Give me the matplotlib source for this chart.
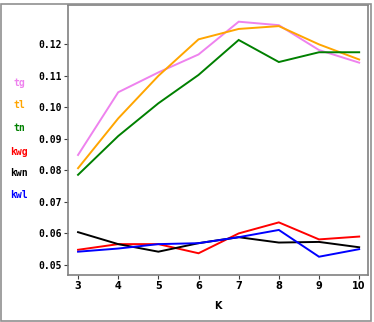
import matplotlib
matplotlib.use("Agg")
import matplotlib.pyplot as plt
from matplotlib.patches import Rectangle

K = [3, 4, 5, 6, 7, 8, 9, 10]
tg = [0.0849, 0.1048, 0.1111, 0.1168, 0.1272, 0.1261, 0.1182, 0.1142]
tl = [0.0807, 0.0965, 0.1100, 0.1216, 0.1249, 0.1258, 0.1200, 0.1152]
tn = [0.0786, 0.0909, 0.1013, 0.1103, 0.1214, 0.1144, 0.1175, 0.1175]
kwg = [0.0548, 0.0566, 0.0566, 0.0537, 0.0600, 0.0635, 0.0581, 0.0590]
kwn = [0.0604, 0.0566, 0.0542, 0.0569, 0.0588, 0.0571, 0.0573, 0.0556]
kwl = [0.0542, 0.0552, 0.0566, 0.0569, 0.0588, 0.0611, 0.0526, 0.0550]
series_names = ["tg", "tl", "tn", "kwg", "kwn", "kwl"]
colors = ["#EE82EE", "#FFA500", "#008000", "#FF0000", "#000000", "#0000FF"]
yticks = [0.05, 0.06, 0.07, 0.08, 0.09, 0.10, 0.11, 0.12]

fig = plt.figure(figsize=(3.74, 3.22), dpi=100)
ax = fig.add_axes([68/374, 1-275/322, 300/374, 270/322])

data = [tg, tl, tn, kwg, kwn, kwl]
for vals, c in zip(data, colors):
    ax.plot(K, vals, color=c, lw=1.4, solid_joinstyle="miter")

ax.set_xlim(2.75, 10.22)
ax.set_ylim(0.0468, 0.1325)
ax.set_xticks(K)
ax.set_xticklabels([str(k) for k in K], fontfamily="DejaVu Sans", fontweight="bold", fontsize=7)
ax.set_yticks(yticks)
ax.set_yticklabels(["%.2f" % v for v in yticks], fontfamily="DejaVu Sans Mono", fontweight="bold", fontsize=7)
ax.tick_params(axis="both", length=3, width=0.8, color="#404040", pad=1.5)
for s in ax.spines.values():
    s.set_color("#808080")
    s.set_linewidth(1.2)
ax.set_xlabel("K", fontfamily="DejaVu Sans", fontweight="bold", fontsize=7, labelpad=7)

# legend-like labels at left
label_y = [83, 105, 128, 152, 173, 195]
for name, c, py in zip(series_names, colors, label_y):
    fig.text(19/374, 1-py/322, name, color=c, fontfamily="DejaVu Sans Mono",
             fontweight="bold", fontsize=7, va="center", ha="center")

# outer frame
fig.patches.append(Rectangle((1/374, 1-321/322), 369.5/374, 317/322, transform=fig.transFigure,
                             fill=False, edgecolor="#909090", lw=1.2))

fig.savefig("out.png", dpi=100)
